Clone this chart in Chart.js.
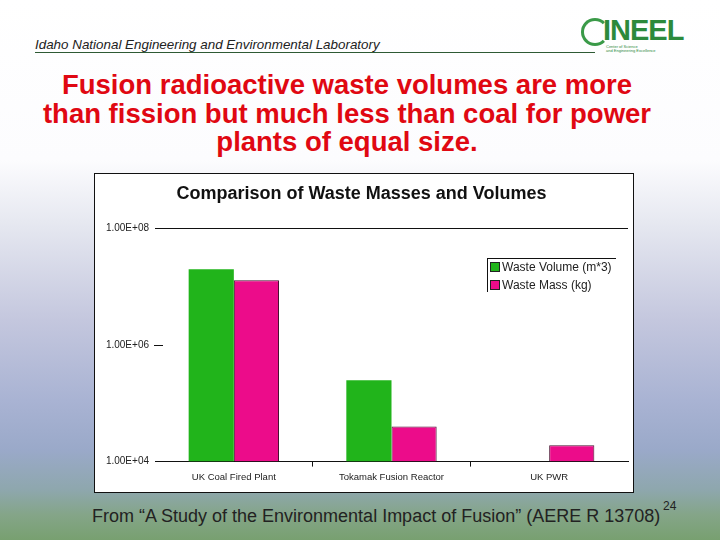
<!DOCTYPE html>
<html>
<head>
<meta charset="utf-8">
<script src="https://cdn.jsdelivr.net/npm/chart.js@4.4.0/dist/chart.umd.min.js"></script>
<style>
  html, body { margin: 0; padding: 0; }
  body {
    width: 720px; height: 540px; overflow: hidden; position: relative;
    font-family: "Liberation Sans", Arial, sans-serif;
    background: linear-gradient(to bottom,
      #ffffff 0px, #fcfcfe 160px, #e7e9f1 220px, #c4c7de 320px,
      #a9b3d3 400px, #9aa9c9 450px, #8ea7ad 490px, #84a588 515px, #78a070 540px);
  }
  .org {
    position: absolute; left: 35px; top: 37px;
    font-size: 13.4px; font-style: italic; color: #222;
  }
  .rule { position: absolute; left: 35px; top: 52px; width: 560px; height: 1px; background: #2e5a34; }
  .logo {
    position: absolute; left: 603px; top: 14px;
    font-size: 29px; font-weight: bold; color: #2c8a3c; letter-spacing: -1px;
  }
  .logo-sub { position: absolute; left: 606px; top: 45px; font-size: 4px; color: #2c8a3c; line-height: 4px; }
  .globe {
    position: absolute; left: 581px; top: 18px; width: 22px; height: 22px;
    border-radius: 50%; border: 3px solid #3a9a48; border-right-color: transparent;
  }
  .headline {
    position: absolute; left: 0; top: 71px; width: 694px; text-align: center;
    font-size: 27.5px; font-weight: bold; color: #e00812; line-height: 28.5px;
  }
  .box {
    position: absolute; left: 94px; top: 173px; width: 538px; height: 318px;
    border: 1px solid #111; background: #fff;
  }
  .legend {
    position: absolute; left: 487px; top: 258px; width: 128px; height: 33px;
    border-top: 1px solid #111; border-left: 1px solid #111;
    font-size: 12px; color: #222;
  }
  .legend .item { position: absolute; left: 2px; height: 13px; line-height: 13px; white-space: nowrap; }
  .legend .sw { display: inline-block; width: 8px; height: 8px; border: 1px solid #222; margin-right: 2px; vertical-align: -1px; }
  .source {
    position: absolute; left: 92px; top: 506px; font-size: 18px; color: #222; white-space: nowrap;
  }
  .page { position: absolute; left: 663px; top: 499px; font-size: 12px; color: #222; }
</style>
</head>
<body>
<div class="org">Idaho National Engineering and Environmental Laboratory</div>
<div class="rule"></div>
<div class="globe"></div>
<div class="logo">INEEL</div>
<div class="logo-sub">Center of Science<br>and Engineering Excellence</div>
<div class="headline">Fusion radioactive waste volumes are more<br>than fission but much less than coal for power<br>plants of equal size.</div>
<div class="box"><canvas id="chart" width="538" height="318"></canvas></div>
<div class="legend" id="legend"></div>
<div class="source">From “A Study of the Environmental Impact of Fusion” (AERE R 13708)</div>
<div class="page">24</div>
<script>
const chartTitle = "Comparison of Waste Masses and Volumes";
const categories = ["UK Coal Fired Plant", "Tokamak Fusion Reactor", "UK PWR"];
const wasteVolume = [2.0e7, 2.5e5, null];
const wasteMass = [1.3e7, 4.0e4, 1.9e4];
const yTickValues = [1e4, 1e6, 1e8];
const yTickLabels = ["1.00E+04", "1.00E+06", "1.00E+08"];

const green = "rgb(33, 180, 27)";
const pink = "rgb(236, 12, 138)";

// short dash for the middle decade (no full gridline there)
const midTick = {
  id: "midTick",
  afterDraw(chart) {
    const { ctx, chartArea, scales } = chart;
    const y = Math.round(scales.y.getPixelForValue(yTickValues[1])) + 0.5;
    ctx.save();
    ctx.strokeStyle = "#111";
    ctx.lineWidth = 1;
    ctx.beginPath();
    ctx.moveTo(chartArea.left - 1, y);
    ctx.lineTo(chartArea.left + 8, y);
    ctx.stroke();
    ctx.restore();
  },
};

const chart = new Chart(document.getElementById("chart"), {
  type: "bar",
  data: {
    labels: categories,
    datasets: [
      { label: "Waste Volume (m*3)", data: wasteVolume, backgroundColor: green, borderColor: green, borderWidth: 0 },
      { label: "Waste Mass (kg)", data: wasteMass, backgroundColor: pink, borderColor: "#4a1030", borderWidth: 1 },
    ],
  },
  options: {
    responsive: false,
    animation: false,
    barPercentage: 1,
    categoryPercentage: 0.573,
    layout: { padding: { top: 9, right: 5, left: 0, bottom: 4 } },
    plugins: {
      legend: { display: false },
      tooltip: { enabled: false },
      title: {
        display: true,
        text: chartTitle,
        color: "#111",
        font: { family: "Liberation Sans", size: 18, weight: "bold" },
        padding: { top: 0, bottom: 24 },
      },
    },
    scales: {
      x: {
        grid: {
          offset: true,
          drawOnChartArea: false,
          tickLength: 5,
          color: (c) => (c.index === 1 || c.index === 2 ? "#111" : "rgba(0,0,0,0)"),
        },
        border: { display: true, color: "#111", width: 1 },
        ticks: { color: "#222", padding: 5, font: { family: "Liberation Sans", size: 9.5 } },
      },
      y: {
        type: "logarithmic",
        min: yTickValues[0],
        max: yTickValues[yTickValues.length - 1],
        afterBuildTicks: (scale) => {
          scale.ticks = yTickValues.map((v) => ({ value: v }));
        },
        afterFit: (scale) => {
          scale.width = 60;
        },
        grid: {
          tickLength: 0,
          color: (c) => (c.tick && c.tick.value === yTickValues[1] ? "rgba(0,0,0,0)" : "#111"),
        },
        border: { display: false },
        ticks: {
          color: "#222",
          padding: 6,
          font: { family: "Liberation Sans", size: 10 },
          callback: (value) => yTickLabels[yTickValues.indexOf(value)],
        },
      },
    },
  },
  plugins: [midTick],
});

const legendEl = document.getElementById("legend");
chart.data.datasets.forEach((ds, i) => {
  const item = document.createElement("div");
  item.className = "item";
  item.style.top = 2 + i * 18 + "px";
  item.innerHTML = `<span class="sw" style="background:${ds.backgroundColor}"></span>${ds.label}`;
  legendEl.appendChild(item);
});
</script>
</body>
</html>
